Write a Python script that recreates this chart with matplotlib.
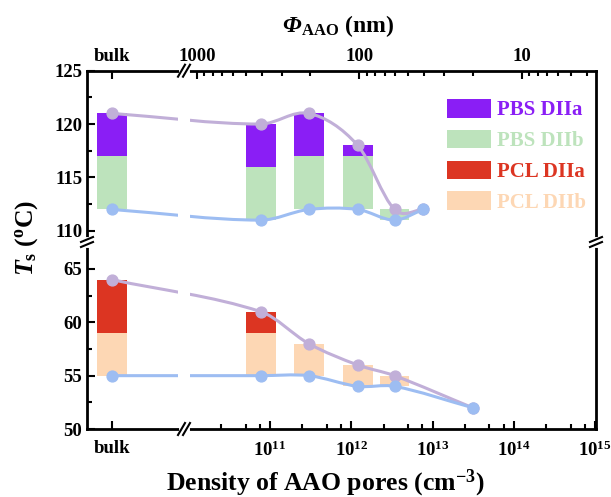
import numpy as np
import matplotlib
matplotlib.use("Agg")
import matplotlib.pyplot as plt
from matplotlib.path import Path
from matplotlib.patches import PathPatch, Patch
from matplotlib.lines import Line2D
from matplotlib.ticker import FixedLocator, NullFormatter

plt.rcParams['font.family'] = 'Liberation Serif'
plt.rcParams['font.weight'] = 'bold'
plt.rcParams['mathtext.fontset'] = 'custom'
plt.rcParams['mathtext.rm'] = 'Liberation Serif:bold'
plt.rcParams['mathtext.bf'] = 'Liberation Serif:bold'
plt.rcParams['mathtext.it'] = 'Liberation Serif:italic:bold'

# where "bulk" sits on the density axis (left of the break)
BULK = 1.14e9

# PBS, upper panel
pbs_x = [BULK, 7.7e10, 3.0e11, 1.2e12, 3.4e12, 7.7e12]
pbs_high = [121, 120, 121, 118, 112, 112]
pbs_low = [112, 111, 112, 112, 111, 112]
pbs_mid = [117, 116, 117, 117, 112]

# PCL, lower panel
pcl_x = [BULK, 7.7e10, 3.0e11, 1.2e12, 3.4e12, 3.1e13]
pcl_high = [64, 61, 58, 56, 55, 52]
pcl_low = [55, 55, 55, 54, 54, 52]
pcl_mid = [59, 59, 58, 56, 55]

phi_ticks = [1000, 100, 10]
phi_minor = [900, 800, 700, 600, 500, 400, 300, 200,
             90, 80, 70, 60, 50, 40, 30, 20, 9, 8, 7, 6, 5, 4]
PHI_C = 10 ** 16.1   # density = PHI_C / phi**2

c_pbs_a = '#8A1EF5'
c_pbs_b = '#BDE3BC'
c_pcl_a = '#DC3522'
c_pcl_b = '#FDD7B4'
c_high = '#C1AFD8'
c_low = '#9DBDF2'

W_PX, H_PX = 611, 497
fig = plt.figure(figsize=(6.11, 4.97), dpi=100)

L, R = 87 / W_PX, 596 / W_PX
y_top, y_brk, y_bot = 1 - 70.7 / H_PX, 1 - 242 / H_PX, 1 - 429 / H_PX
ax_t = fig.add_axes([L, y_brk, R - L, y_top - y_brk])
ax_b = fig.add_axes([L, y_bot, R - L, y_brk - y_bot])


def smooth_path(xs, ys):
    # cubic hermite through the points, in log10(x)
    u = np.log10(xs)
    y = np.asarray(ys, float)
    n = len(u)
    m = np.empty(n)
    m[0] = (y[1] - y[0]) / (u[1] - u[0])
    m[-1] = (y[-1] - y[-2]) / (u[-1] - u[-2])
    for i in range(1, n - 1):
        m[i] = (y[i + 1] - y[i - 1]) / (u[i + 1] - u[i - 1])
    verts = [(xs[0], y[0])]
    codes = [Path.MOVETO]
    for i in range(n - 1):
        h = u[i + 1] - u[i]
        verts += [(10 ** (u[i] + h / 3), y[i] + m[i] * h / 3),
                  (10 ** (u[i + 1] - h / 3), y[i + 1] - m[i + 1] * h / 3),
                  (xs[i + 1], y[i + 1])]
        codes += [Path.CURVE4] * 3
    return Path(verts, codes)


def draw_panel(ax, xs, high, mid, low, ca, cb):
    half = 10 ** 0.184
    xb = np.array(xs[:len(mid)])
    left = xb / half
    width = xb * half - xb / half
    lo = np.array(low[:len(mid)])
    md = np.array(mid)
    hi = np.array(high[:len(mid)])
    ax.bar(left, md - lo, width, bottom=lo, align='edge', color=cb, zorder=1)
    ax.bar(left, hi - md, width, bottom=md, align='edge', color=ca, zorder=1)
    for ys, c in ((high, c_high), (low, c_low)):
        ax.add_patch(PathPatch(smooth_path(xs, ys), fill=False, edgecolor=c,
                               lw=2.2, zorder=2))
    ax.plot(xs, high, 'o', color=c_high, ms=7.8, zorder=3)
    ax.plot(xs, low, 'o', color=c_low, ms=7.8, zorder=3)
    # gap in the curves at the axis break
    ax.axvspan(10 ** 9.868, 10 ** 10.016, ymin=0.01, ymax=0.99,
               color='white', zorder=2.2, lw=0)


draw_panel(ax_t, pbs_x, pbs_high, pbs_mid, pbs_low, c_pbs_a, c_pbs_b)
draw_panel(ax_b, pcl_x, pcl_high, pcl_mid, pcl_low, c_pcl_a, c_pcl_b)

for ax in (ax_t, ax_b):
    ax.set_xscale('log')
    ax.set_xlim(10 ** 8.749, 10 ** 15.01)
    for s in ax.spines.values():
        s.set_linewidth(2)
    ax.tick_params(which='both', direction='in', width=1.5, labelsize=13.5,
                   right=False)
    ax.tick_params(which='major', length=6)
    ax.tick_params(which='minor', length=3.5)

ax_t.set_ylim(108.95, 125)
ax_t.set_yticks([110, 115, 120, 125])
ax_t.yaxis.set_minor_locator(FixedLocator([112.5, 117.5, 122.5]))
ax_b.set_ylim(50, 67.53)
ax_b.set_yticks([50, 55, 60, 65])
ax_b.yaxis.set_minor_locator(FixedLocator([52.5, 57.5, 62.5]))
ax_t.spines['bottom'].set_visible(False)
ax_b.spines['top'].set_visible(False)

# bottom: density of pores
ax_b.xaxis.set_major_locator(FixedLocator([BULK, 1e11, 1e12, 1e13, 1e14, 1e15]))
ax_b.set_xticklabels(['bulk'] + [r'$10^{%d}$' % d for d in range(11, 16)])
dens_minor = [k * 10.0 ** d for d in range(10, 15) for k in (2.5, 5, 7.5)]
ax_b.xaxis.set_minor_locator(FixedLocator(dens_minor))
ax_b.xaxis.set_minor_formatter(NullFormatter())
ax_b.tick_params(axis='x', which='both', top=False, pad=8)

# top: pore diameter
ax_t.tick_params(axis='x', which='both', bottom=False, labelbottom=False,
                 top=True, labeltop=True, pad=4)
ax_t.xaxis.set_major_locator(FixedLocator([BULK] + [PHI_C / p ** 2 for p in phi_ticks]))
ax_t.set_xticklabels(['bulk'] + [str(p) for p in phi_ticks])
ax_t.xaxis.set_minor_locator(FixedLocator(
    [PHI_C / p ** 2 for p in phi_minor if PHI_C / p ** 2 < 10 ** 15.01]))
ax_t.xaxis.set_minor_formatter(NullFormatter())


def fig_line(xs, ys, **kw):
    fig.add_artist(Line2D([x / W_PX for x in xs], [1 - y / H_PX for y in ys],
                          transform=fig.transFigure, **kw))


def xbreak(xc, yc):
    fig_line([xc - 3, xc + 3], [yc, yc], color='white', lw=3.5)
    for dx in (-2.5, 2.5):
        fig_line([xc + dx - 3.5, xc + dx + 3.5], [yc + 6, yc - 6],
                 color='black', lw=1.5)


def ybreak(xc, yc):
    fig_line([xc, xc], [yc - 3, yc + 3], color='white', lw=3.5)
    for dy in (-2.5, 2.5):
        fig_line([xc - 6, xc + 6], [yc + dy + 2.5, yc + dy - 2.5],
                 color='black', lw=1.5)


xbreak(184, 70.7)
xbreak(184, 429)
ybreak(87, 242)
ybreak(596, 242)

handles = [Patch(facecolor=c, edgecolor='none', label=l) for c, l in
           ((c_pbs_a, 'PBS DIIa'), (c_pbs_b, 'PBS DIIb'),
            (c_pcl_a, 'PCL DIIa'), (c_pcl_b, 'PCL DIIb'))]
leg = fig.legend(handles=handles, loc='upper left',
                 bbox_to_anchor=(447 / W_PX, 1 - 99 / H_PX), frameon=False,
                 fontsize=15, handlelength=2.1, handleheight=1.0,
                 handletextpad=0.3, labelspacing=0.45, borderpad=0,
                 borderaxespad=0)
for t, h in zip(leg.get_texts(), handles):
    t.set_color(h.get_facecolor())

fig.text(325 / W_PX, 1 - 490 / H_PX, r'Density of AAO pores (cm$^{-3}$)',
         ha='center', va='baseline', fontsize=18.5, fontweight='bold')
# top axis title: italic Phi, then the subscript and unit
fig.text(301 / W_PX, 1 - 32 / H_PX, 'Φ', ha='right', va='baseline',
         fontsize=17, fontweight='bold', fontstyle='italic')
fig.text(301 / W_PX, 1 - 32 / H_PX, r'${}_{\mathrm{AAO}}$ (nm)', ha='left',
         va='baseline', fontsize=17, fontweight='bold')
fig.text(27 / W_PX, 1 - 238 / H_PX, r'$\mathit{T}_{\mathrm{s}}$ ($^{\mathrm{o}}$C)',
         ha='center', va='center', rotation=90, fontsize=18.5, fontweight='bold')

fig.savefig('out.png', dpi=100)
